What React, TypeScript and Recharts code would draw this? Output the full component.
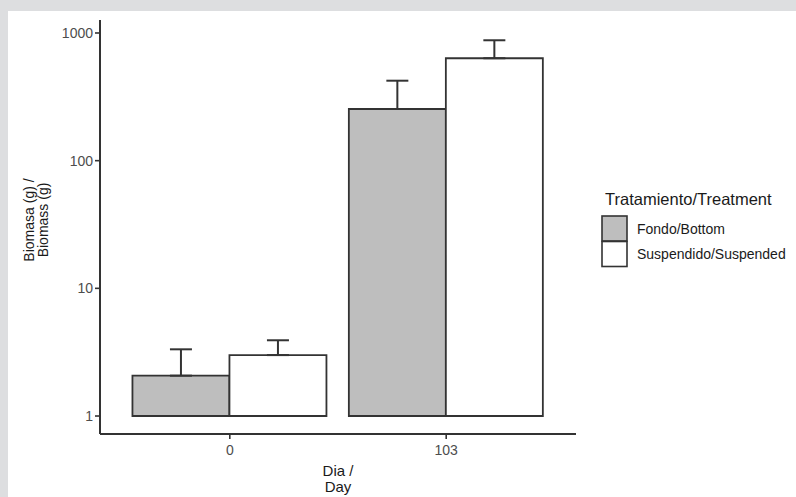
import React from 'react';
import { BarChart, Bar, XAxis, YAxis, ErrorBar, Legend } from 'recharts';

const days = ['0', '103'];
const bottomMeans = [2.07, 254];
const bottomErrors = [1.26, 169];
const suspendedMeans = [3.0, 634];
const suspendedErrors = [0.92, 243];
const yTicks = [1, 10, 100, 1000];
const barBase = 1;
const yDomain = [0.723, 1264];

const data = days.map((day, i) => ({
  day,
  bottom: [barBase, bottomMeans[i]],
  bottomErr: [0, bottomErrors[i]],
  suspended: [barBase, suspendedMeans[i]],
  suspendedErr: [0, suspendedErrors[i]],
}));

const FONT = '"Liberation Sans", Arial, Helvetica, sans-serif';
const AXIS = '#333333';
const GRAY = '#bebebe';

const YTitle = () => (
  <text
    transform="translate(34, 220) rotate(-90)"
    textAnchor="middle"
    fontFamily={FONT}
    fontSize={14}
    fill="#1a1a1a"
  >
    <tspan x={0} y={0}>Biomasa (g) /</tspan>
    <tspan x={0} y={14}>Biomass (g)</tspan>
  </text>
);

const XTitle = () => (
  <text textAnchor="middle" fontFamily={FONT} fontSize={15} fill="#1a1a1a">
    <tspan x={338} y={476}>Dia /</tspan>
    <tspan x={338} y={492}>Day</tspan>
  </text>
);

const renderLegend = (props: any) => {
  const payload = props.payload || [];
  return (
    <svg width={196} height={92} style={{ display: 'block', fontFamily: FONT }}>
      <text x={5} y={20} fontSize={16.5} fill="#1a1a1a">Tratamiento/Treatment</text>
      {payload.map((entry: any, i: number) => (
        <g key={entry.value}>
          <rect x={2} y={31 + i * 25.5} width={25} height={25} fill={entry.color} stroke={AXIS} strokeWidth={1.6} />
          <text x={37} y={48.5 + i * 25.5} fontSize={14} fill="#1a1a1a">{entry.value}</text>
        </g>
      ))}
    </svg>
  );
};

export default function App() {
  return (
    <div style={{ position: 'fixed', left: 0, top: 0, width: 796, height: 497, background: '#dddee0', overflow: 'hidden' }}>
      <div style={{ position: 'absolute', left: 8, top: 11, width: 788, height: 486, background: '#ffffff' }} />
      <div style={{ position: 'absolute', left: 0, top: 0 }}>
        <BarChart
          width={796}
          height={497}
          data={data}
          margin={{ top: 20, right: 220, left: 0, bottom: 0 }}
          barCategoryGap={10.85}
          barGap={0}
        >
          <XAxis
            dataKey="day"
            height={63}
            padding={{ left: 21.6, right: 21.6 }}
            tickSize={5}
            tickMargin={6}
            stroke={AXIS}
            strokeWidth={2}
            tick={{ fill: '#4d4d4d', fontSize: 14, fontFamily: FONT }}
            tickLine={{ stroke: AXIS, strokeWidth: 1.6 }}
            label={<XTitle />}
          />
          <YAxis
            scale="log"
            domain={yDomain}
            allowDataOverflow
            ticks={yTicks}
            width={100}
            tickSize={5}
            tickMargin={2}
            stroke={AXIS}
            strokeWidth={2}
            tick={{ fill: '#4d4d4d', fontSize: 14, fontFamily: FONT }}
            tickLine={{ stroke: AXIS, strokeWidth: 1.6 }}
            label={<YTitle />}
          />
          <Legend
            layout="horizontal"
            verticalAlign="middle"
            align="center"
            content={renderLegend}
            wrapperStyle={{ position: 'absolute', left: 600, top: 185, width: 196, height: 92 }}
          />
          <Bar dataKey="bottom" name="Fondo/Bottom" fill={GRAY} stroke={AXIS} strokeWidth={1.8} isAnimationActive={false}>
            <ErrorBar dataKey="bottomErr" width={11} stroke={AXIS} strokeWidth={2} isAnimationActive={false} />
          </Bar>
          <Bar dataKey="suspended" name="Suspendido/Suspended" fill="#ffffff" stroke={AXIS} strokeWidth={1.8} isAnimationActive={false}>
            <ErrorBar dataKey="suspendedErr" width={11} stroke={AXIS} strokeWidth={2} isAnimationActive={false} />
          </Bar>
        </BarChart>
      </div>
    </div>
  );
}
